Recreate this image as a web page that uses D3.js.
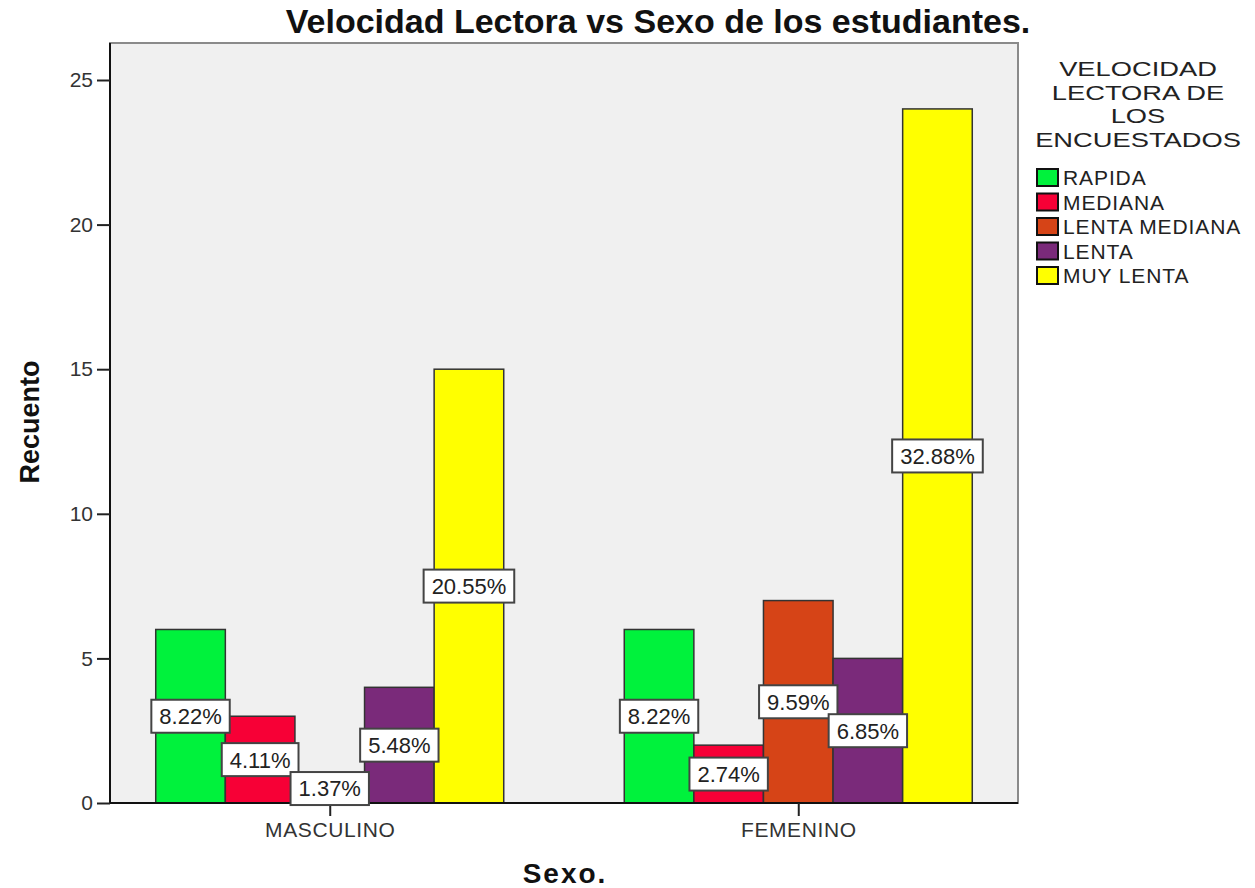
<!DOCTYPE html>
<html>
<head>
<meta charset="utf-8">
<script src="https://cdn.jsdelivr.net/npm/d3@7"></script>
<style>
  body { margin: 0; background: #fff; }
  svg text { font-family: "Liberation Sans", Arial, sans-serif; }
</style>
</head>
<body>
<div id="root"></div>
<script>
// data
const sexos = ["MASCULINO", "FEMENINO"]
const velocidades = ["RAPIDA", "MEDIANA", "LENTA MEDIANA", "LENTA", "MUY LENTA"]
const colores = ["#00f23c", "#f70036", "#d64417", "#7a2a7a", "#ffff00"]
const recuentoMasculino = [6, 3, 1, 4, 15]
const recuentoFemenino = [6, 2, 7, 5, 24]
const pctMasculino = ["8.22%", "4.11%", "1.37%", "5.48%", "20.55%"]
const pctFemenino = ["8.22%", "2.74%", "9.59%", "6.85%", "32.88%"]
const yTicks = [0, 5, 10, 15, 20, 25]
const legendTitle = ["VELOCIDAD", "LECTORA DE", "LOS", "ENCUESTADOS"]

const w = 1255, h = 888
const plot = {left: 110, top: 43, right: 1018, bottom: 803}

const svg = d3.select("#root").append("svg")
    .attr("width", w)
    .attr("height", h)

//scales
const x = d3.scalePoint()
    .domain(sexos)
    .range([plot.left, plot.right])
    .padding(0.469)

const inner = d3.scaleBand()
    .domain(velocidades)
    .range([-174, 174])

const y = d3.scaleLinear()
    .domain([0, 25])
    .range([plot.bottom, 80])

const color = d3.scaleOrdinal().domain(velocidades).range(colores)

// plot background
svg.append("rect")
    .attr("x", plot.left).attr("y", plot.top)
    .attr("width", plot.right - plot.left)
    .attr("height", plot.bottom - plot.top)
    .attr("fill", "#f0f0f0")
    .attr("stroke", "#8a8a8a")
    .attr("stroke-width", 2)

// title
svg.append("text")
    .attr("x", 658).attr("y", 33)
    .attr("text-anchor", "middle")
    .attr("font-size", 34).attr("font-weight", "bold")
    .attr("fill", "#111")
    .text("Velocidad Lectora vs Sexo de los estudiantes.")

const rows = []
sexos.forEach((s, i) => {
    const vals = i == 0 ? recuentoMasculino : recuentoFemenino
    const pcts = i == 0 ? pctMasculino : pctFemenino
    velocidades.forEach((v, j) => rows.push({sexo: s, vel: v, value: vals[j], pct: pcts[j]}))
})

// bars
svg.selectAll("rect.bar").data(rows).enter().append("rect")
    .attr("class", "bar")
    .attr("x", d => x(d.sexo) + inner(d.vel))
    .attr("width", inner.bandwidth())
    .attr("y", d => y(d.value))
    .attr("height", d => y(0) - y(d.value))
    .attr("fill", d => color(d.vel))
    .attr("stroke", "#333")
    .attr("stroke-width", 1.5)

// axes
const yAxis = svg.append("g")
    .attr("transform", `translate(${plot.left},0)`)
    .call(d3.axisLeft(y).tickValues(yTicks).tickSize(13).tickPadding(4).tickFormat(d3.format("d")))
yAxis.select(".domain").attr("stroke", "#111").attr("stroke-width", 2)
    .attr("d", `M0,${plot.top}V${plot.bottom}`)
yAxis.selectAll(".tick line").attr("stroke", "#222").attr("stroke-width", 2)
yAxis.selectAll(".tick text").attr("font-size", 21).attr("fill", "#333")
    .style("font-family", "'Liberation Sans', Arial, sans-serif")

const xAxis = svg.append("g")
    .attr("transform", `translate(0,${plot.bottom})`)
    .call(d3.axisBottom(x).tickSize(13).tickPadding(6))
xAxis.select(".domain").attr("stroke", "#111").attr("stroke-width", 2)
    .attr("d", `M${plot.left},0H${plot.right}`)
xAxis.selectAll(".tick text").attr("font-size", 21).attr("fill", "#333")
    .attr("letter-spacing", 0.6)
    .style("font-family", "'Liberation Sans', Arial, sans-serif")
xAxis.selectAll(".tick line").attr("stroke", "#222").attr("stroke-width", 2)

// percent labels
const labels = svg.selectAll("g.lbl").data(rows).enter().append("g")
    .attr("class", "lbl")
    .attr("transform", d => `translate(${x(d.sexo) + inner(d.vel) + inner.bandwidth() / 2},${y(d.value / 2)})`)

labels.append("text")
    .attr("text-anchor", "middle")
    .attr("dy", "0.36em")
    .attr("font-size", 22)
    .attr("fill", "#222")
    .text(d => d.pct)

labels.each(function () {
    const g = d3.select(this)
    const bb = g.select("text").node().getBBox()
    g.insert("rect", "text")
        .attr("x", bb.x - 8).attr("y", -16.5)
        .attr("width", bb.width + 16).attr("height", 33)
        .attr("fill", "#fff")
        .attr("stroke", "#444")
        .attr("stroke-width", 2)
})

// axis titles
svg.append("text")
    .attr("transform", "translate(39,422) rotate(-90)")
    .attr("text-anchor", "middle")
    .attr("font-size", 27).attr("font-weight", "bold")
    .attr("fill", "#111")
    .text("Recuento")

svg.append("text")
    .attr("x", 565).attr("y", 883)
    .attr("text-anchor", "middle")
    .attr("font-size", 28).attr("font-weight", "bold")
    .attr("letter-spacing", 2)
    .attr("fill", "#111")
    .text("Sexo.")

// legend
const legend = svg.append("g").attr("class", "legend")
const lt = legend.append("g")
    .attr("transform", "translate(1138,0) scale(1.3,1)")
    .append("text")
    .attr("text-anchor", "middle")
    .attr("font-size", 21)
    .attr("fill", "#222")
lt.selectAll("tspan").data(legendTitle).enter().append("tspan")
    .attr("x", 0)
    .attr("y", (d, i) => 76 + i * 23.6)
    .text(d => d)

const items = legend.selectAll("g.item").data(velocidades).enter().append("g")
    .attr("class", "item")
    .attr("transform", (d, i) => `translate(1037,${169 + i * 24.5})`)
items.append("rect")
    .attr("width", 21).attr("height", 17)
    .attr("fill", d => color(d))
    .attr("stroke", "#111").attr("stroke-width", 2)
items.append("text")
    .attr("x", 26).attr("y", 16)
    .attr("font-size", 21)
    .attr("letter-spacing", 0.9)
    .attr("fill", "#222")
    .text(d => d)
</script>
</body>
</html>
